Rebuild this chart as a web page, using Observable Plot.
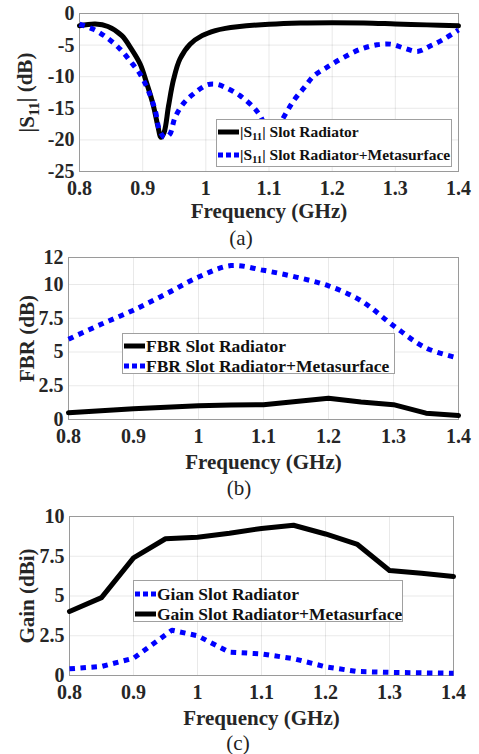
<!DOCTYPE html>
<html><head><meta charset="utf-8">
<script src="https://cdn.jsdelivr.net/npm/d3@7"></script>
<script src="https://cdn.jsdelivr.net/npm/@observablehq/plot@0.6"></script>
<style>
body{margin:0;background:#fff;}
#fig{position:relative;width:479px;height:754px;overflow:hidden;font-family:"Liberation Serif","Times New Roman",serif;color:#262626;background:#fff;}
#fig svg, #fig svg text{font-family:"Liberation Serif","Times New Roman",serif !important;}
.panel{position:absolute;left:0;}
.cap{position:absolute;font-size:21px;transform:translateX(-50%);line-height:1;color:#222;}
.legend{position:absolute;background:#fff;border:1px solid #a0a0a0;box-sizing:border-box;font-weight:bold;color:#111;}
.legend .row{position:absolute;left:0;height:20px;display:flex;align-items:center;white-space:nowrap;transform:translateY(-50%);}
.legend svg{display:block;margin-right:1px;}
sub{font-size:70%;vertical-align:-0.3em;line-height:0;}
</style></head>
<body>
<div id="fig"></div>
<script>
// ---------- data ----------
const freqTicks = [0.8, 0.9, 1, 1.1, 1.2, 1.3, 1.4];
const s11Ticks = [-25, -20, -15, -10, -5, 0];
const fbrTicks = [0, 2.5, 5, 7.5, 10, 12];
const gainTicks = [0, 2.5, 5, 7.5, 10];

const freqS11Radiator = [0.8, 0.825, 0.845, 0.867, 0.882, 0.896, 0.906, 0.917, 0.924, 0.929, 0.934, 0.941, 0.949, 0.959, 0.975, 0.994, 1.015, 1.031, 1.05, 1.1, 1.15, 1.2, 1.25, 1.3, 1.35, 1.4];
const s11Radiator = [-1.95, -1.68, -2.05, -3.5, -5.6, -8.0, -10.9, -14.6, -17.8, -19.6, -18.8, -14.6, -10.4, -7.2, -4.85, -3.5, -2.7, -2.35, -2.1, -1.7, -1.5, -1.45, -1.5, -1.65, -1.8, -1.95];

const freqS11Meta = [0.8, 0.822, 0.843, 0.864, 0.88, 0.896, 0.909, 0.92, 0.927, 0.935, 0.943, 0.951, 0.964, 0.98, 1.002, 1.017, 1.033, 1.054, 1.076, 1.086, 1.105, 1.123, 1.139, 1.156, 1.171, 1.192, 1.218, 1.245, 1.271, 1.293, 1.314, 1.335, 1.356, 1.377, 1.4];
const s11Meta = [-1.7, -2.5, -3.8, -5.6, -7.5, -9.6, -12.2, -15.4, -18.6, -19.6, -19.1, -16.5, -14.3, -12.75, -11.3, -11.2, -11.8, -13.0, -14.9, -16.2, -19.5, -16.45, -13.8, -11.7, -9.86, -8.5, -6.96, -5.64, -4.95, -4.85, -5.48, -6.0, -5.1, -4.05, -2.6];

const freqFBR = [0.8, 0.85, 0.9, 0.95, 1.0, 1.05, 1.1, 1.15, 1.2, 1.25, 1.3, 1.35, 1.4];
const fbrRadiator = [0.5, 0.65, 0.79, 0.9, 1.02, 1.08, 1.1, 1.34, 1.58, 1.3, 1.1, 0.47, 0.3];
const fbrMeta = [5.95, 7.05, 8.1, 9.3, 10.55, 11.4, 11.05, 10.55, 9.9, 8.8, 6.95, 5.3, 4.55];

const freqGainMeta = [0.8, 0.85, 0.9, 0.95, 1.0, 1.05, 1.1, 1.15, 1.2, 1.25, 1.3, 1.35, 1.4];
const gainMeta = [4.03, 4.9, 7.4, 8.6, 8.7, 8.95, 9.25, 9.45, 8.9, 8.24, 6.6, 6.43, 6.23];
const freqGainRadiator = [0.8, 0.85, 0.9, 0.96, 1.0, 1.05, 1.1, 1.15, 1.2, 1.25, 1.3, 1.35, 1.4];
const gainRadiator = [0.42, 0.57, 1.09, 2.85, 2.5, 1.47, 1.36, 1.06, 0.55, 0.25, 0.2, 0.17, 0.14];

const seriesA = [
  {label: '|S<sub>11</sub>| Slot Radiator', x: freqS11Radiator, y: s11Radiator, kind: "solid"},
  {label: '|S<sub>11</sub>| Slot Radiator+Metasurface', x: freqS11Meta, y: s11Meta, kind: "dot"}
];
const seriesB = [
  {label: 'FBR Slot Radiator', x: freqFBR, y: fbrRadiator, kind: "solid"},
  {label: 'FBR Slot Radiator+Metasurface', x: freqFBR, y: fbrMeta, kind: "dot"}
];
const seriesC = [
  {label: 'Gian Slot Radiator', x: freqGainRadiator, y: gainRadiator, kind: "dot"},
  {label: 'Gain Slot Radiator+Metasurface', x: freqGainMeta, y: gainMeta, kind: "solid"}
];

// ---------- drawing ----------
const fig = document.getElementById("fig");
const BLUE = "#0000ff";
const SERIF = '"Liberation Serif","Times New Roman",serif';

function lineMark(s, curve) {
  const rows = s.x.map((f, i) => ({f, v: s.y[i]}));
  if (s.kind === "solid") {
    return Plot.line(rows, {x: "f", y: "v", stroke: "#000", strokeWidth: 5, curve, strokeLinejoin: "round"});
  }
  return Plot.line(rows, {x: "f", y: "v", stroke: BLUE, strokeWidth: 5, strokeDasharray: "5.5,5.5", strokeLinecap: "butt", curve});
}

function panel(cfg) {
  const p = Plot.plot({
    width: 479, height: cfg.height,
    marginTop: cfg.mt, marginBottom: cfg.mb, marginLeft: cfg.ml, marginRight: cfg.mr,
    style: {fontFamily: SERIF, fontSize: "20px", fontWeight: "bold", color: "#262626", background: "transparent", overflow: "visible"},
    x: {domain: [0.8, 1.4], ticks: freqTicks, tickFormat: d => String(d), tickSize: 0, tickPadding: cfg.xpad, label: null, grid: true},
    y: {domain: cfg.ydomain, ticks: cfg.yticks, tickFormat: d => String(d), tickSize: 0, tickPadding: 5, label: null, grid: true},
    marks: [
      Plot.frame({stroke: "#9a9a9a"}),
      ...cfg.series.map((s, i) => lineMark(s, cfg.curves[i])),
      Plot.text(["Frequency (GHz)"], {frameAnchor: "bottom", dy: cfg.xtitleDy, lineAnchor: "middle", fontSize: 21, fontWeight: "bold", fontFamily: SERIF}),
      Plot.text([cfg.ytitle], {frameAnchor: "left", dx: cfg.ytitleDx, rotate: -90, lineAnchor: "middle", textAnchor: "middle", fontSize: 21, fontWeight: "bold", fontFamily: SERIF})
    ]
  });
  p.classList.add("panel");
  p.style.top = cfg.top + "px";
  p.style.fontFamily = SERIF;
  fig.appendChild(p);

  // caption
  const cap = document.createElement("div");
  cap.className = "cap";
  cap.textContent = cfg.caption;
  cap.style.left = cfg.capX + "px";
  cap.style.top = cfg.capY + "px";
  fig.appendChild(cap);

  // legend
  const lg = document.createElement("div");
  lg.className = "legend";
  Object.assign(lg.style, {left: cfg.lg.left + "px", top: cfg.lg.top + "px", width: cfg.lg.w + "px", height: cfg.lg.h + "px", fontSize: cfg.lg.fs + "px"});
  cfg.series.forEach((s, i) => {
    const row = document.createElement("div");
    row.className = "row";
    row.style.top = cfg.lg.rows[i] + "px";
    row.style.left = "1px";
    const sw = s.kind === "solid"
      ? '<svg width="21" height="8"><line x1="0" y1="4" x2="21" y2="4" stroke="#000" stroke-width="5"/></svg>'
      : '<svg width="21" height="8"><line x1="0" y1="4" x2="21" y2="4" stroke="' + BLUE + '" stroke-width="5" stroke-dasharray="5,3"/></svg>';
    row.innerHTML = sw + '<span>' + s.label + '</span>';
    lg.appendChild(row);
  });
  fig.appendChild(lg);
  return p;
}

const pa = panel({
  top: 0, height: 225, mt: 13, mb: 54, ml: 79, mr: 21, xpad: 9,
  ydomain: [-25, 0], yticks: s11Ticks, series: seriesA, curves: ["catmull-rom", "catmull-rom"],
  xtitleDy: 40, ytitle: "|S11| (dB)", ytitleDx: -52,
  caption: "(a)", capX: 241, capY: 228,
  lg: {left: 216, top: 119, w: 236, h: 48, fs: 15.5, rows: [12, 35]}
});
const pb = panel({
  top: 245, height: 230, mt: 12, mb: 56, ml: 68, mr: 21, xpad: 9,
  ydomain: [0, 12], yticks: fbrTicks, series: seriesB, curves: ["linear", "catmull-rom"],
  xtitleDy: 43, ytitle: "FBR (dB)", ytitleDx: -41,
  caption: "(b)", capX: 239, capY: 478,
  lg: {left: 122, top: 333, w: 273, h: 41, fs: 17.5, rows: [12, 32]}
});
const pc = panel({
  top: 500, height: 230, mt: 16, mb: 55, ml: 69, mr: 26, xpad: 9,
  ydomain: [0, 10], yticks: gainTicks, series: seriesC, curves: ["linear", "linear"],
  xtitleDy: 43, ytitle: "Gain (dBi)", ytitleDx: -42,
  caption: "(c)", capX: 238, capY: 733,
  lg: {left: 133, top: 580, w: 270, h: 42, fs: 17.5, rows: [13, 33]}
});

// serif font on every svg text
d3.selectAll("#fig svg text").attr("font-family", SERIF);

// subscript in the S11 axis title
d3.select(pa).selectAll("text").filter(function() { return this.textContent === "|S11| (dB)"; })
  .each(function() {
    const t = d3.select(this);
    t.text(null);
    t.append("tspan").text("|S");
    t.append("tspan").attr("font-size", "70%").attr("dy", "0.35em").text("11");
    t.append("tspan").attr("dy", "-0.35em").text("| (dB)");
  });
</script>
</body></html>
